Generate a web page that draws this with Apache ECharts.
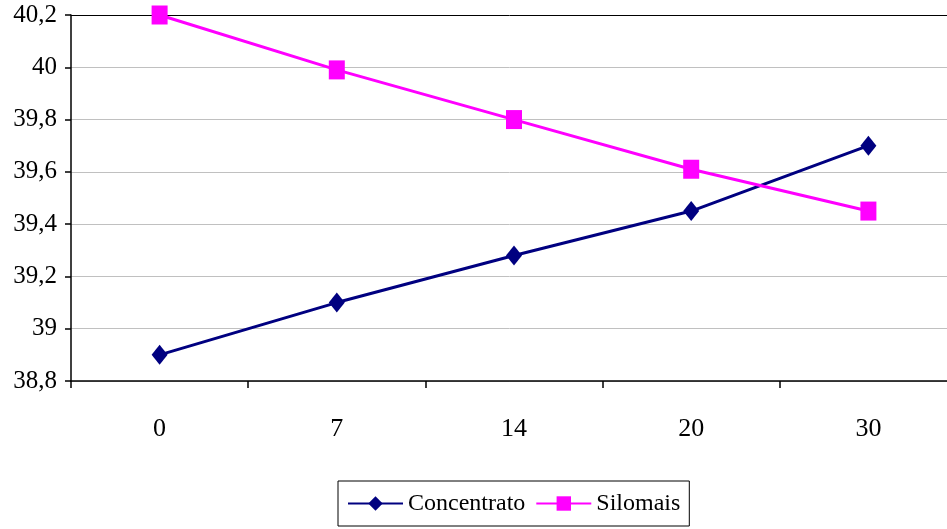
<!DOCTYPE html>
<html><head><meta charset="utf-8">
<script src="https://cdn.jsdelivr.net/npm/echarts@6/dist/echarts.min.js"></script>
<style>html,body{margin:0;padding:0;background:#fff}#c{width:947px;height:529px}</style>
</head><body><div id="c"></div>
<script>
const categories = ['0', '7', '14', '20', '30'];
const concentrato = [38.9, 39.1, 39.28, 39.45, 39.7];
const silomais = [40.2, 39.99, 39.8, 39.61, 39.45];
const yMin = 38.8, yMax = 40.2, yStep = 0.2;

const font = 'Liberation Serif';
const chart = echarts.init(document.getElementById('c'), null, {renderer: 'canvas'});
chart.setOption({
  animation: false,
  backgroundColor: '#fff',
  grid: {left: 71, width: 886, top: 15, height: 366, containLabel: false, outerBoundsMode: 'none'},
  xAxis: {
    type: 'category', data: categories, boundaryGap: true,
    axisLine: {lineStyle: {color: '#000', width: 1.5}},
    axisTick: {show: true, length: 7, lineStyle: {color: '#000', width: 1.5}},
    axisLabel: {color: '#000', fontFamily: font, fontSize: 26, margin: 35},
    splitLine: {show: false}
  },
  yAxis: {
    type: 'value', min: yMin, max: yMax, interval: yStep,
    axisLine: {show: true, lineStyle: {color: '#000', width: 1.5}},
    axisTick: {show: true, length: 6, lineStyle: {color: '#000', width: 1.5}},
    axisLabel: {color: '#000', fontFamily: font, fontSize: 25, margin: 14,
      formatter: v => String(Math.round(v * 10) / 10).replace('.', ',')},
    splitLine: {show: true, lineStyle: {color: ['#c0c0c0','#c0c0c0','#c0c0c0','#c0c0c0','#c0c0c0','#c0c0c0','#c0c0c0','#000'], width: 1}}
  },
  legend: {
    left: 338, top: 481, orient: 'horizontal',
    borderColor: '#000', borderWidth: 1, padding: [9, 9, 9, 9],
    itemWidth: 55, itemHeight: 18, itemGap: 10,
    textStyle: {color: '#000', fontFamily: font, fontSize: 24, lineHeight: 27},
    data: ['Concentrato', 'Silomais']
  },
  series: [
    {name: 'Concentrato', type: 'line', data: concentrato,
     symbol: 'diamond', symbolSize: [16, 20],
     lineStyle: {color: '#000080', width: 3},
     itemStyle: {color: '#000080'}},
    {name: 'Silomais', type: 'line', data: silomais,
     symbol: 'rect', symbolSize: [16, 19],
     lineStyle: {color: '#ff00ff', width: 3},
     itemStyle: {color: '#ff00ff'}}
  ]
});
</script></body></html>
